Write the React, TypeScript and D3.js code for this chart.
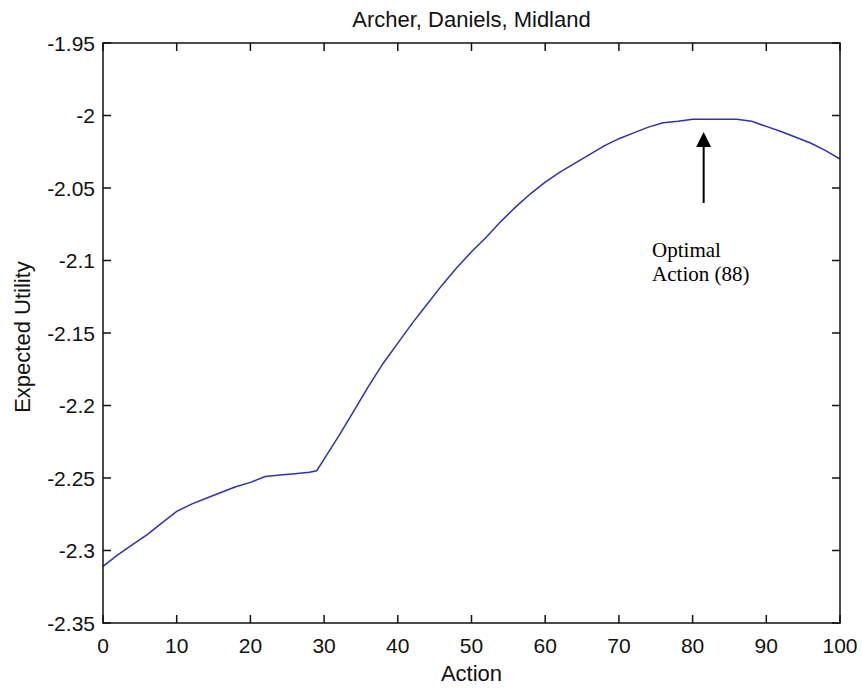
import React from "react";
import * as d3 from "d3";

const actions = [0, 2, 4, 6, 8, 10, 12, 14, 16, 18, 20, 22, 24, 26, 28, 29, 30, 32, 34, 36, 38, 40, 42, 44, 46, 48, 50, 52, 54, 56, 58, 60, 62, 64, 66, 68, 70, 72, 74, 76, 78, 80, 82, 84, 86, 88, 90, 92, 94, 96, 98, 100];
const utility = [-2.311, -2.303, -2.296, -2.289, -2.281, -2.273, -2.268, -2.264, -2.26, -2.256, -2.253, -2.249, -2.248, -2.247, -2.246, -2.245, -2.237, -2.221, -2.204, -2.187, -2.171, -2.157, -2.143, -2.13, -2.117, -2.105, -2.094, -2.084, -2.073, -2.063, -2.054, -2.046, -2.039, -2.033, -2.027, -2.021, -2.016, -2.012, -2.008, -2.005, -2.004, -2.0026, -2.0026, -2.0026, -2.0026, -2.004, -2.0075, -2.011, -2.015, -2.019, -2.024, -2.03];
const xTicks = [0, 10, 20, 30, 40, 50, 60, 70, 80, 90, 100];
const yTicks = [-1.95, -2, -2.05, -2.1, -2.15, -2.2, -2.25, -2.3, -2.35];
const yTickLabels = ["-1.95", "-2", "-2.05", "-2.1", "-2.15", "-2.2", "-2.25", "-2.3", "-2.35"];
const title = "Archer, Daniels, Midland";
const xLabel = "Action";
const yLabel = "Expected Utility";
const annotationLines = ["Optimal", "Action (88)"];
const arrowAction = 81.5;
const arrowTip = -2.0114;
const arrowBase = -2.0603;
const labelAction = 74.5;
const labelValues = [-2.0976, -2.114];

export default function App() {
  const W = 862, H = 690;
  const left = 103, right = 840, top = 43, bottom = 623;
  const x = d3.scaleLinear().domain([0, 100]).range([left, right]);
  const y = d3.scaleLinear().domain([-2.35, -1.95]).range([bottom, top]);
  const line = d3.line<number>().x((_, i) => x(actions[i])).y((d) => y(d));
  const tick = 8;
  const sans = "'Liberation Sans', Arial, sans-serif";
  const ax = x(arrowAction);
  const tipY = y(arrowTip);
  const baseY = y(arrowBase);
  const headH = 15;
  return (
    <svg width={W} height={H} style={{ position: "absolute", left: 0, top: 0, background: "#fff" }}>
      <rect x={0} y={0} width={W} height={H} fill="#fff" />
      <path d={line(utility) || ""} fill="none" stroke="#3030b0" strokeWidth={1.5} />
      {xTicks.map((t) => (
        <g key={"x" + t}>
          <line x1={x(t)} x2={x(t)} y1={bottom} y2={bottom - tick} stroke="#111" strokeWidth={1.5} />
          <line x1={x(t)} x2={x(t)} y1={top} y2={top + tick} stroke="#111" strokeWidth={1.5} />
          <text x={x(t)} y={653} textAnchor="middle" fontFamily={sans} fontSize={21} fill="#111">{t}</text>
        </g>
      ))}
      {yTicks.map((t, i) => (
        <g key={"y" + t}>
          <line x1={left} x2={left + tick} y1={y(t)} y2={y(t)} stroke="#111" strokeWidth={1.5} />
          <line x1={right} x2={right - tick} y1={y(t)} y2={y(t)} stroke="#111" strokeWidth={1.5} />
          <text x={95} y={y(t)} dy="0.36em" textAnchor="end" fontFamily={sans} fontSize={21} fill="#111">{yTickLabels[i]}</text>
        </g>
      ))}
      <rect x={left} y={top} width={right - left} height={bottom - top} fill="none" stroke="#111" strokeWidth={1.5} />
      <text x={(left + right) / 2} y={27} textAnchor="middle" fontFamily={sans} fontSize={22} fill="#111">{title}</text>
      <text x={(left + right) / 2} y={681} textAnchor="middle" fontFamily={sans} fontSize={22} fill="#111">{xLabel}</text>
      <text transform={`translate(30,337) rotate(-90)`} textAnchor="middle" fontFamily={sans} fontSize={22} fill="#111">{yLabel}</text>
      <line x1={ax} x2={ax} y1={baseY} y2={tipY + headH - 1} stroke="#000" strokeWidth={2} />
      <polygon points={`${ax},${tipY} ${ax - 7.5},${tipY + headH} ${ax + 7.5},${tipY + headH}`} fill="#000" />
      {annotationLines.map((s, i) => (
        <text key={s} x={x(labelAction)} y={y(labelValues[i])} fontFamily="'Liberation Serif', 'Times New Roman', serif" fontSize={21} fill="#000">{s}</text>
      ))}
    </svg>
  );
}
